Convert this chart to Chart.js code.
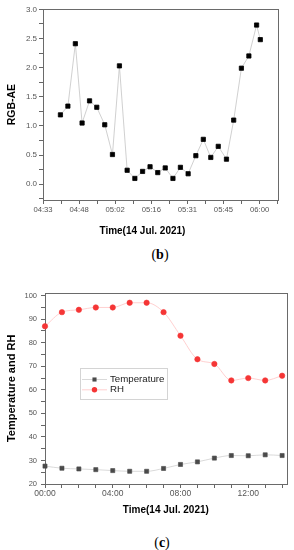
<!DOCTYPE html>
<html>
<head>
<meta charset="utf-8">
<script src="https://cdn.jsdelivr.net/npm/chart.js@4.4.0/dist/chart.umd.min.js"></script>
<style>
  body { margin: 0; background: #fff; }
  #page { position: relative; width: 294px; height: 550px; overflow: hidden; }
  canvas { position: absolute; left: 0; }
  #chartB { top: 0; }
  #chartC { top: 270px; }
  .cap { position: absolute; width: 294px; text-align: center; font-family: 'Liberation Serif', 'Times New Roman', serif; font-size: 14px; line-height: 16px; color: #000; }
</style>
</head>
<body>
<div id="page">
  <canvas id="chartB" width="294" height="242"></canvas>
  <div class="cap" style="top:247px; left:13px;">(<b>b</b>)</div>
  <canvas id="chartC" width="294" height="255"></canvas>
  <div class="cap" style="top:535px; left:15px;">(<b>c</b>)</div>
</div>
<script>
// ---- (b) RGB-AE, minutes after 04:33
const minutesB = [7, 10, 13, 15.7, 18.7, 21.6, 24.8, 27.9, 30.7, 33.8, 36.9, 40, 43, 46.1,
                  49.1, 52.2, 55.2, 58.3, 61.4, 64.4, 67.4, 70.4, 73.7, 76.6, 79.7, 82.7, 85.8, 87.3];
const aeB = [1.19, 1.34, 2.41, 1.05, 1.43, 1.32, 1.02, 0.51, 2.03, 0.24, 0.10, 0.22, 0.30, 0.20,
             0.28, 0.10, 0.29, 0.18, 0.49, 0.77, 0.46, 0.65, 0.43, 1.10, 1.99, 2.20, 2.73, 2.48];
const xTickMinB = [0, 14.5, 29, 43.5, 58, 72.5, 87];
const xTickLabelB = ['04:33', '04:48', '05:02', '05:16', '05:31', '05:45', '06:00'];
const yTickB = [0, 0.5, 1.0, 1.5, 2.0, 2.5, 3.0];

// ---- (c) temperature and RH, hour of day
const hoursC = [0, 1, 2, 3, 4, 5, 6, 7, 8, 9, 10, 11, 12, 13, 14];
const tempC = [27.6, 26.7, 26.4, 26.1, 25.7, 25.4, 25.4, 26.6, 28.3, 29.4, 31.0, 32.1, 32.0, 32.4, 32.1];
const rhC = [87, 93, 94, 95, 95, 97, 97, 93, 83, 73, 71, 64, 65, 64, 66];
const xTickHourC = [0, 4, 8, 12];
const xTickLabelC = ['00:00', '04:00', '08:00', '12:00'];
const yTickC = [20, 30, 40, 50, 60, 70, 80, 90, 100];

Chart.defaults.font.family = "'Liberation Sans', Arial, sans-serif";
Chart.defaults.color = '#555';

// box round the plot area (Origin style)
const framePlugin = {
  id: 'frame',
  beforeDatasetsDraw(chart) {
    const { ctx, chartArea: a } = chart;
    ctx.save();
    ctx.strokeStyle = '#6a6a6a';
    ctx.lineWidth = 1;
    ctx.strokeRect(Math.round(a.left) + 0.5, Math.round(a.top) + 0.5,
                   Math.round(a.right - a.left), Math.round(a.bottom - a.top));
    ctx.restore();
  }
};

// legend drawn in a box inside the plot
const boxLegend = {
  id: 'boxLegend',
  afterDraw(chart, args, o) {
    if (!o || !o.w) return;
    const ctx = chart.ctx;
    ctx.save();
    ctx.strokeStyle = '#d4d4d4';
    ctx.lineWidth = 1;
    ctx.strokeRect(o.x + 0.5, o.y + 0.5, o.w, o.h);
    chart.data.datasets.forEach((ds, i) => {
      const cy = o.y + 11.5 + i * 10.3;
      ctx.strokeStyle = ds.borderColor;
      ctx.lineWidth = 0.8;
      ctx.beginPath();
      ctx.moveTo(o.x + 2, cy);
      ctx.lineTo(o.x + 27, cy);
      ctx.stroke();
      ctx.fillStyle = ds.pointBackgroundColor;
      const r = ds.pointRadius;
      ctx.beginPath();
      if (ds.pointStyle === 'rect') {
        const s = r * Math.SQRT1_2;
        ctx.rect(o.x + 14.5 - s, cy - s, 2 * s, 2 * s);
      } else {
        ctx.arc(o.x + 14.5, cy, r, 0, Math.PI * 2);
      }
      ctx.fill();
      ctx.fillStyle = '#222';
      ctx.font = "9.7px 'Liberation Sans', Arial, sans-serif";
      ctx.textBaseline = 'middle';
      ctx.textAlign = 'left';
      ctx.fillText(ds.label, o.x + 30, cy);
    });
    ctx.restore();
  }
};

function ticksFrom(majors, step, lo, hi) {
  const out = [];
  for (let v = lo; v <= hi + 1e-9; v += step) out.push({ value: Math.round(v * 1000) / 1000 });
  return out;
}
function labelAt(value, majors, labels) {
  const i = majors.findIndex(m => Math.abs(m - value) < 1e-6);
  return i < 0 ? '' : labels[i];
}

new Chart(document.getElementById('chartB'), {
  type: 'line',
  data: {
    datasets: [{
      label: 'RGB-AE',
      data: minutesB.map((m, i) => ({ x: m, y: aeB[i] })),
      borderColor: '#c4c4c4',
      borderWidth: 0.8,
      pointStyle: 'rect',
      pointRadius: 3,
      pointBorderWidth: 0.8,
      pointBackgroundColor: '#000',
      pointBorderColor: '#000',
      tension: 0,
      clip: false
    }]
  },
  options: {
    responsive: false,
    animation: false,
    events: [],
    layout: { padding: { left: 0, right: 16, top: 9.3, bottom: 0 } },
    plugins: { legend: { display: false }, tooltip: { enabled: false } },
    scales: {
      x: {
        type: 'linear', bounds: 'data', min: 0, max: 94.4,
        afterBuildTicks: s => { s.ticks = ticksFrom(xTickMinB, 7.25, 0, 94.25); },
        afterFit: s => { s.height = 42; },
        border: { display: false },
        grid: { drawOnChartArea: false, drawTicks: true, tickLength: 4, color: '#666' },
        ticks: { autoSkip: false, maxRotation: 0, padding: 1.4, font: { size: 7.7 }, color: '#555',
                 callback: v => labelAt(v, xTickMinB, xTickLabelB) },
        title: { display: true, text: 'Time(14 Jul. 2021)' + '\u00a0'.repeat(13), color: '#000',
                 font: { size: 10, weight: 'bold' }, padding: { top: 0, bottom: 4.6 } }
      },
      y: {
        type: 'linear', bounds: 'data', min: -0.27, max: 3.0,
        afterBuildTicks: s => { s.ticks = ticksFrom(yTickB, 0.25, -0.25, 3.0); },
        afterFit: s => { s.width = 43; },
        border: { display: false },
        grid: { drawOnChartArea: false, drawTicks: true, tickLength: 4, color: '#666' },
        ticks: { autoSkip: false, padding: 2, font: { size: 8 }, color: '#555',
                 callback: v => labelAt(v, yTickB, yTickB.map(t => t.toFixed(1))) },
        title: { display: true, text: 'RGB-AE', color: '#000',
                 font: { size: 10.5, weight: 'bold' }, padding: { top: 5.4, bottom: 0 } }
      }
    }
  },
  plugins: [framePlugin]
});

new Chart(document.getElementById('chartC'), {
  type: 'line',
  data: {
    datasets: [{
      label: 'Temperature',
      data: hoursC.map((h, i) => ({ x: h, y: tempC[i] })),
      borderColor: '#cfcfcf',
      borderWidth: 0.8,
      pointStyle: 'rect',
      pointRadius: 2.9,
      pointBorderWidth: 0.6,
      pointBackgroundColor: '#4a4a4a',
      pointBorderColor: '#4a4a4a',
      cubicInterpolationMode: 'monotone',
      clip: false
    }, {
      label: 'RH',
      data: hoursC.map((h, i) => ({ x: h, y: rhC[i] })),
      borderColor: '#ffc4c4',
      borderWidth: 0.8,
      pointStyle: 'circle',
      pointRadius: 2.7,
      pointBorderWidth: 0.6,
      pointBackgroundColor: '#f53535',
      pointBorderColor: '#f53535',
      cubicInterpolationMode: 'monotone',
      clip: false
    }]
  },
  options: {
    responsive: false,
    animation: false,
    events: [],
    layout: { padding: { left: 0, right: 7.3, top: 22.7, bottom: 0 } },
    plugins: {
      legend: { display: false }, tooltip: { enabled: false },
      boxLegend: { x: 80, y: 98, w: 87, h: 31 }
    },
    scales: {
      x: {
        type: 'linear', bounds: 'data', min: 0, max: 14.27,
        afterBuildTicks: s => { s.ticks = ticksFrom(xTickHourC, 1, 0, 14); },
        afterFit: s => { s.height = 41; },
        border: { display: false },
        grid: { drawOnChartArea: false, drawTicks: true, tickLength: 4, color: '#666' },
        ticks: { autoSkip: false, maxRotation: 0, padding: 0.4, font: { size: 8.5 }, color: '#555',
                 callback: v => labelAt(v, xTickHourC, xTickLabelC) },
        title: { display: true, text: 'Time(14 Jul. 2021)', color: '#000',
                 font: { size: 10, weight: 'bold' }, padding: { top: 0, bottom: 8.3 } }
      },
      y: {
        type: 'linear', bounds: 'data', min: 20, max: 101.27,
        afterBuildTicks: s => { s.ticks = ticksFrom(yTickC, 5, 20, 100); },
        afterFit: s => { s.width = 45; },
        border: { display: false },
        grid: { drawOnChartArea: false, drawTicks: true, tickLength: 4, color: '#666' },
        ticks: { autoSkip: false, padding: 4, font: { size: 7.5 }, color: '#555',
                 callback: v => labelAt(v, yTickC, yTickC.map(String)) },
        title: { display: true, text: 'Temperature and RH', color: '#000',
                 font: { size: 11, weight: 'bold' }, padding: { top: 5.7, bottom: 0 } }
      }
    }
  },
  plugins: [framePlugin, boxLegend]
});
</script>
</body>
</html>
